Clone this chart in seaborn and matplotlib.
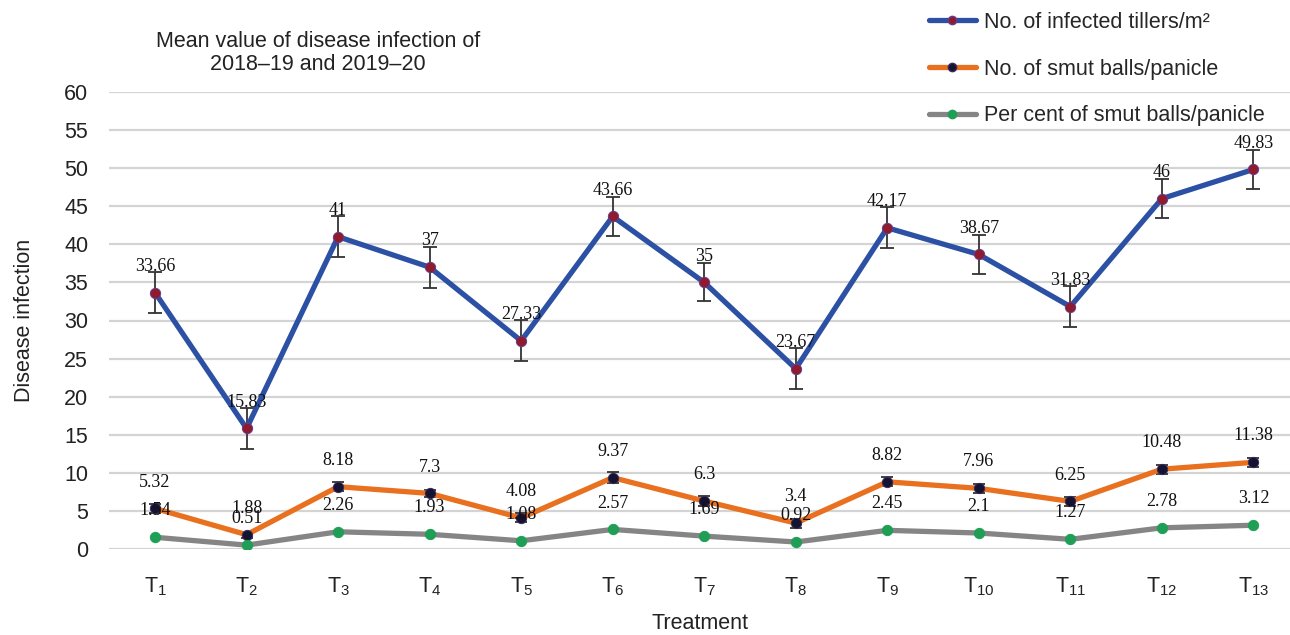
import numpy as np
import pandas as pd
import matplotlib
matplotlib.use("Agg")
import matplotlib.pyplot as plt
import seaborn as sns
from matplotlib.lines import Line2D

treatments = [f"T{i}" for i in range(1, 14)]
tick_labels = [f"T$_{{{i}}}$" for i in range(1, 14)]

tillers = [33.66, 15.83, 41, 37, 27.33, 43.66, 35, 23.67, 42.17, 38.67, 31.83, 46, 49.83]
tillers_err = [2.7, 2.7, 2.7, 2.7, 2.7, 2.6, 2.5, 2.7, 2.7, 2.6, 2.7, 2.6, 2.6]
smut_balls = [5.32, 1.88, 8.18, 7.3, 4.08, 9.37, 6.3, 3.4, 8.82, 7.96, 6.25, 10.48, 11.38]
smut_err = [0.6, 0.4, 0.6, 0.5, 0.6, 0.7, 0.6, 0.6, 0.6, 0.6, 0.6, 0.6, 0.6]
smut_pct = [1.54, 0.51, 2.26, 1.93, 1.08, 2.57, 1.69, 0.92, 2.45, 2.1, 1.27, 2.78, 3.12]

series_names = ["No. of infected tillers/m²", "No. of smut balls/panicle",
                "Per cent of smut balls/panicle"]
line_colors = ["#2c50a3", "#e8701e", "#858585"]
marker_colors = ["#8e1b2e", "#141432", "#1f9e55"]
marker_edges = ["#6a3a8a", "#3a2a5a", "#1f9e55"]

sns.set_style("white")
plt.rcParams["font.family"] = ["Liberation Sans", "DejaVu Sans"]
plt.rcParams["mathtext.fontset"] = "custom"
plt.rcParams["mathtext.rm"] = "Liberation Sans"
plt.rcParams["mathtext.it"] = "Liberation Sans"

x = np.arange(len(treatments))
df = pd.DataFrame({
    "x": np.tile(x, 3),
    "value": tillers + smut_balls + smut_pct,
    "series": np.repeat(series_names, len(x)),
})

fig = plt.figure(figsize=(12.9, 6.35), dpi=100)
ax = fig.add_axes([109 / 1290, 1 - 549 / 635, (1290 - 109) / 1290, (549 - 92) / 635])

ax.set_ylim(0, 60)
ax.set_yticks(range(0, 61, 5))
ax.yaxis.grid(True, color="#d4d4d4", linewidth=1.6)
ax.set_axisbelow(True)
for s in ax.spines.values():
    s.set_visible(False)

# error bars first so the lines sit on top
ax.errorbar(x, tillers, yerr=tillers_err, fmt="none", ecolor="#333333",
            elinewidth=1.3, capsize=5, capthick=1.3, zorder=2)
ax.errorbar(x, smut_balls, yerr=smut_err, fmt="none", ecolor="#333333",
            elinewidth=1.3, capsize=4, capthick=1.3, zorder=2)

sns.lineplot(data=df, x="x", y="value", hue="series", palette=line_colors,
             linewidth=3.8, legend=False, ax=ax, zorder=3)
for name, mc, me in zip(series_names, marker_colors, marker_edges):
    sub = df[df["series"] == name]
    sns.scatterplot(data=sub, x="x", y="value", color=mc, s=55, edgecolor=me,
                    linewidth=0.7, legend=False, ax=ax, zorder=4)

for vals in (tillers, smut_balls, smut_pct):
    for xi, v in zip(x, vals):
        ax.annotate(f"{v:g}", (xi, v), xytext=(0, 19), textcoords="offset points",
                    ha="center", va="center", fontsize=13, color="#111111",
                    family="Liberation Serif", zorder=5)

ax.set_xlim(-0.503, 12.40)
ax.set_xticks(x)
ax.set_xticklabels(tick_labels, fontsize=15.5, color="#222222")
ax.tick_params(axis="x", length=0, pad=19)
ax.tick_params(axis="y", length=0, pad=15, labelsize=15.5, labelcolor="#222222")
ax.set_xlabel("Treatment", fontsize=15.5, color="#222222", labelpad=11)
ax.set_ylabel("Disease infection", fontsize=15.5, color="#222222", labelpad=21)

fig.text(318 / 1290, 1 - 53 / 635,
         "Mean value of disease infection of\n2018\u201319 and 2019\u201320",
         ha="center", va="center", fontsize=15.5, color="#222222", linespacing=1.15)

handles = [Line2D([0], [0], color=lc, linewidth=3.8, marker="o", markersize=6,
                  markerfacecolor=mc, markeredgecolor=me)
           for lc, mc, me in zip(line_colors, marker_colors, marker_edges)]
fig.legend(handles, series_names, loc="upper left",
           bbox_to_anchor=(918 / 1290, 1 - 1 / 635), frameon=False, borderpad=0,
           fontsize=15.5, handlelength=2.2, handletextpad=0.35, labelspacing=1.2)

fig.savefig("out.png", dpi=100)
